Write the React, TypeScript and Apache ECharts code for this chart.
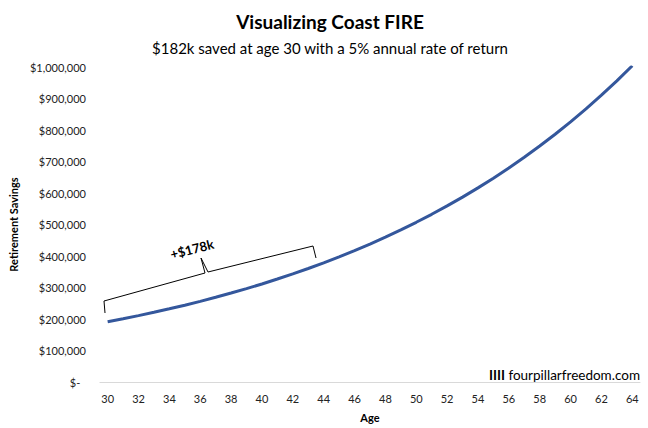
import React, { useEffect, useRef } from "react";
import * as echarts from "echarts";

const ages: string[] = [
  "30","31","32","33","34","35","36","37","38","39","40","41","42","43","44","45","46","47",
  "48","49","50","51","52","53","54","55","56","57","58","59","60","61","62","63","64",
];
const savings: number[] = [
  191100, 200655, 210688, 221222, 232283, 243897, 256092, 268897, 282342, 296459,
  311282, 326846, 343188, 360347, 378364, 397282, 417146, 438003, 459903, 482898,
  507043, 532395, 559015, 586966, 616314, 647130, 679487, 713461, 749134, 786591,
  825921, 867217, 910578, 956107, 1003912,
];
const titleText = "Visualizing Coast FIRE";
const subtitleText = "$182k saved at age 30 with a 5% annual rate of return";
const annotationText = "+$178k";
const watermarkMark = "IIII";
const watermarkText = "fourpillarfreedom.com";

const FONT = "Lato, 'Open Sans', sans-serif";

export default function App() {
  const ref = useRef<HTMLDivElement>(null);
  useEffect(() => {
    document.body.style.margin = "0";
    if (!ref.current) return;
    const chart = echarts.init(ref.current, undefined, { renderer: "svg" });
    chart.setOption({
      animation: false,
      backgroundColor: "#ffffff",
      textStyle: { fontFamily: FONT },
      title: [
        {
          text: titleText,
          left: 325,
          top: 7,
          textAlign: "center",
          textStyle: { fontFamily: FONT, fontSize: 19, fontWeight: "bold", color: "#000" },
        },
        {
          text: subtitleText,
          left: 325,
          top: 35,
          textAlign: "center",
          textStyle: { fontFamily: FONT, fontSize: 15, fontWeight: "normal", color: "#000" },
        },
      ],
      grid: { left: 97, right: 8, top: 67, bottom: 46, containLabel: false },
      xAxis: {
        type: "category",
        data: ages,
        boundaryGap: true,
        name: "Age",
        nameLocation: "middle",
        nameGap: 30,
        nameTextStyle: { fontFamily: FONT, fontSize: 11, fontWeight: "bold", color: "#000" },
        axisLine: { lineStyle: { color: "#d9d9d9", width: 1 } },
        axisTick: { show: false },
        axisLabel: { interval: 1, color: "#222", fontSize: 11, fontFamily: FONT, margin: 11 },
        splitLine: { show: false },
      },
      yAxis: {
        type: "value",
        min: 0,
        max: 1000000,
        interval: 100000,
        name: "Retirement Savings",
        nameLocation: "middle",
        nameGap: 77,
        nameRotate: 90,
        nameTextStyle: { fontFamily: FONT, fontSize: 11, fontWeight: "bold", color: "#000" },
        axisLine: { show: false },
        axisTick: { show: false },
        splitLine: { show: false },
        axisLabel: {
          color: "#222",
          fontSize: 11,
          fontFamily: FONT,
          margin: 14,
          formatter: (v: number) => (v === 0 ? "$-  " : "$" + v.toLocaleString("en-US")),
        },
      },
      series: [
        {
          type: "line",
          data: savings,
          showSymbol: false,
          smooth: false,
          lineStyle: { color: "#34579c", width: 3 },
          itemStyle: { color: "#34579c" },
        },
      ],
      graphic: [
        {
          type: "polyline",
          shape: {
            points: [
              [105, 313],
              [104, 301],
              [205, 273],
              [201, 258],
              [208, 272],
              [313, 246],
              [316, 258],
            ],
          },
          style: { stroke: "#000", lineWidth: 1, fill: null },
        },
        {
          type: "text",
          x: 192,
          y: 249,
          rotation: 0.25,
          style: {
            text: annotationText,
            fontFamily: FONT,
            fontSize: 13,
            fontWeight: "bold",
            fill: "#000",
            align: "center",
            verticalAlign: "middle",
          },
        },
        {
          type: "text",
          x: 640,
          y: 368,
          style: {
            text: "{b|" + watermarkMark + "} " + watermarkText,
            fontFamily: FONT,
            fontSize: 13.5,
            fill: "#000",
            align: "right",
            rich: {
              b: { fontFamily: FONT, fontSize: 13.5, fontWeight: "bold", fill: "#000" },
            },
          },
        },
      ],
    });
    return () => chart.dispose();
  }, []);
  return <div ref={ref} style={{ width: 648, height: 428 }} />;
}
